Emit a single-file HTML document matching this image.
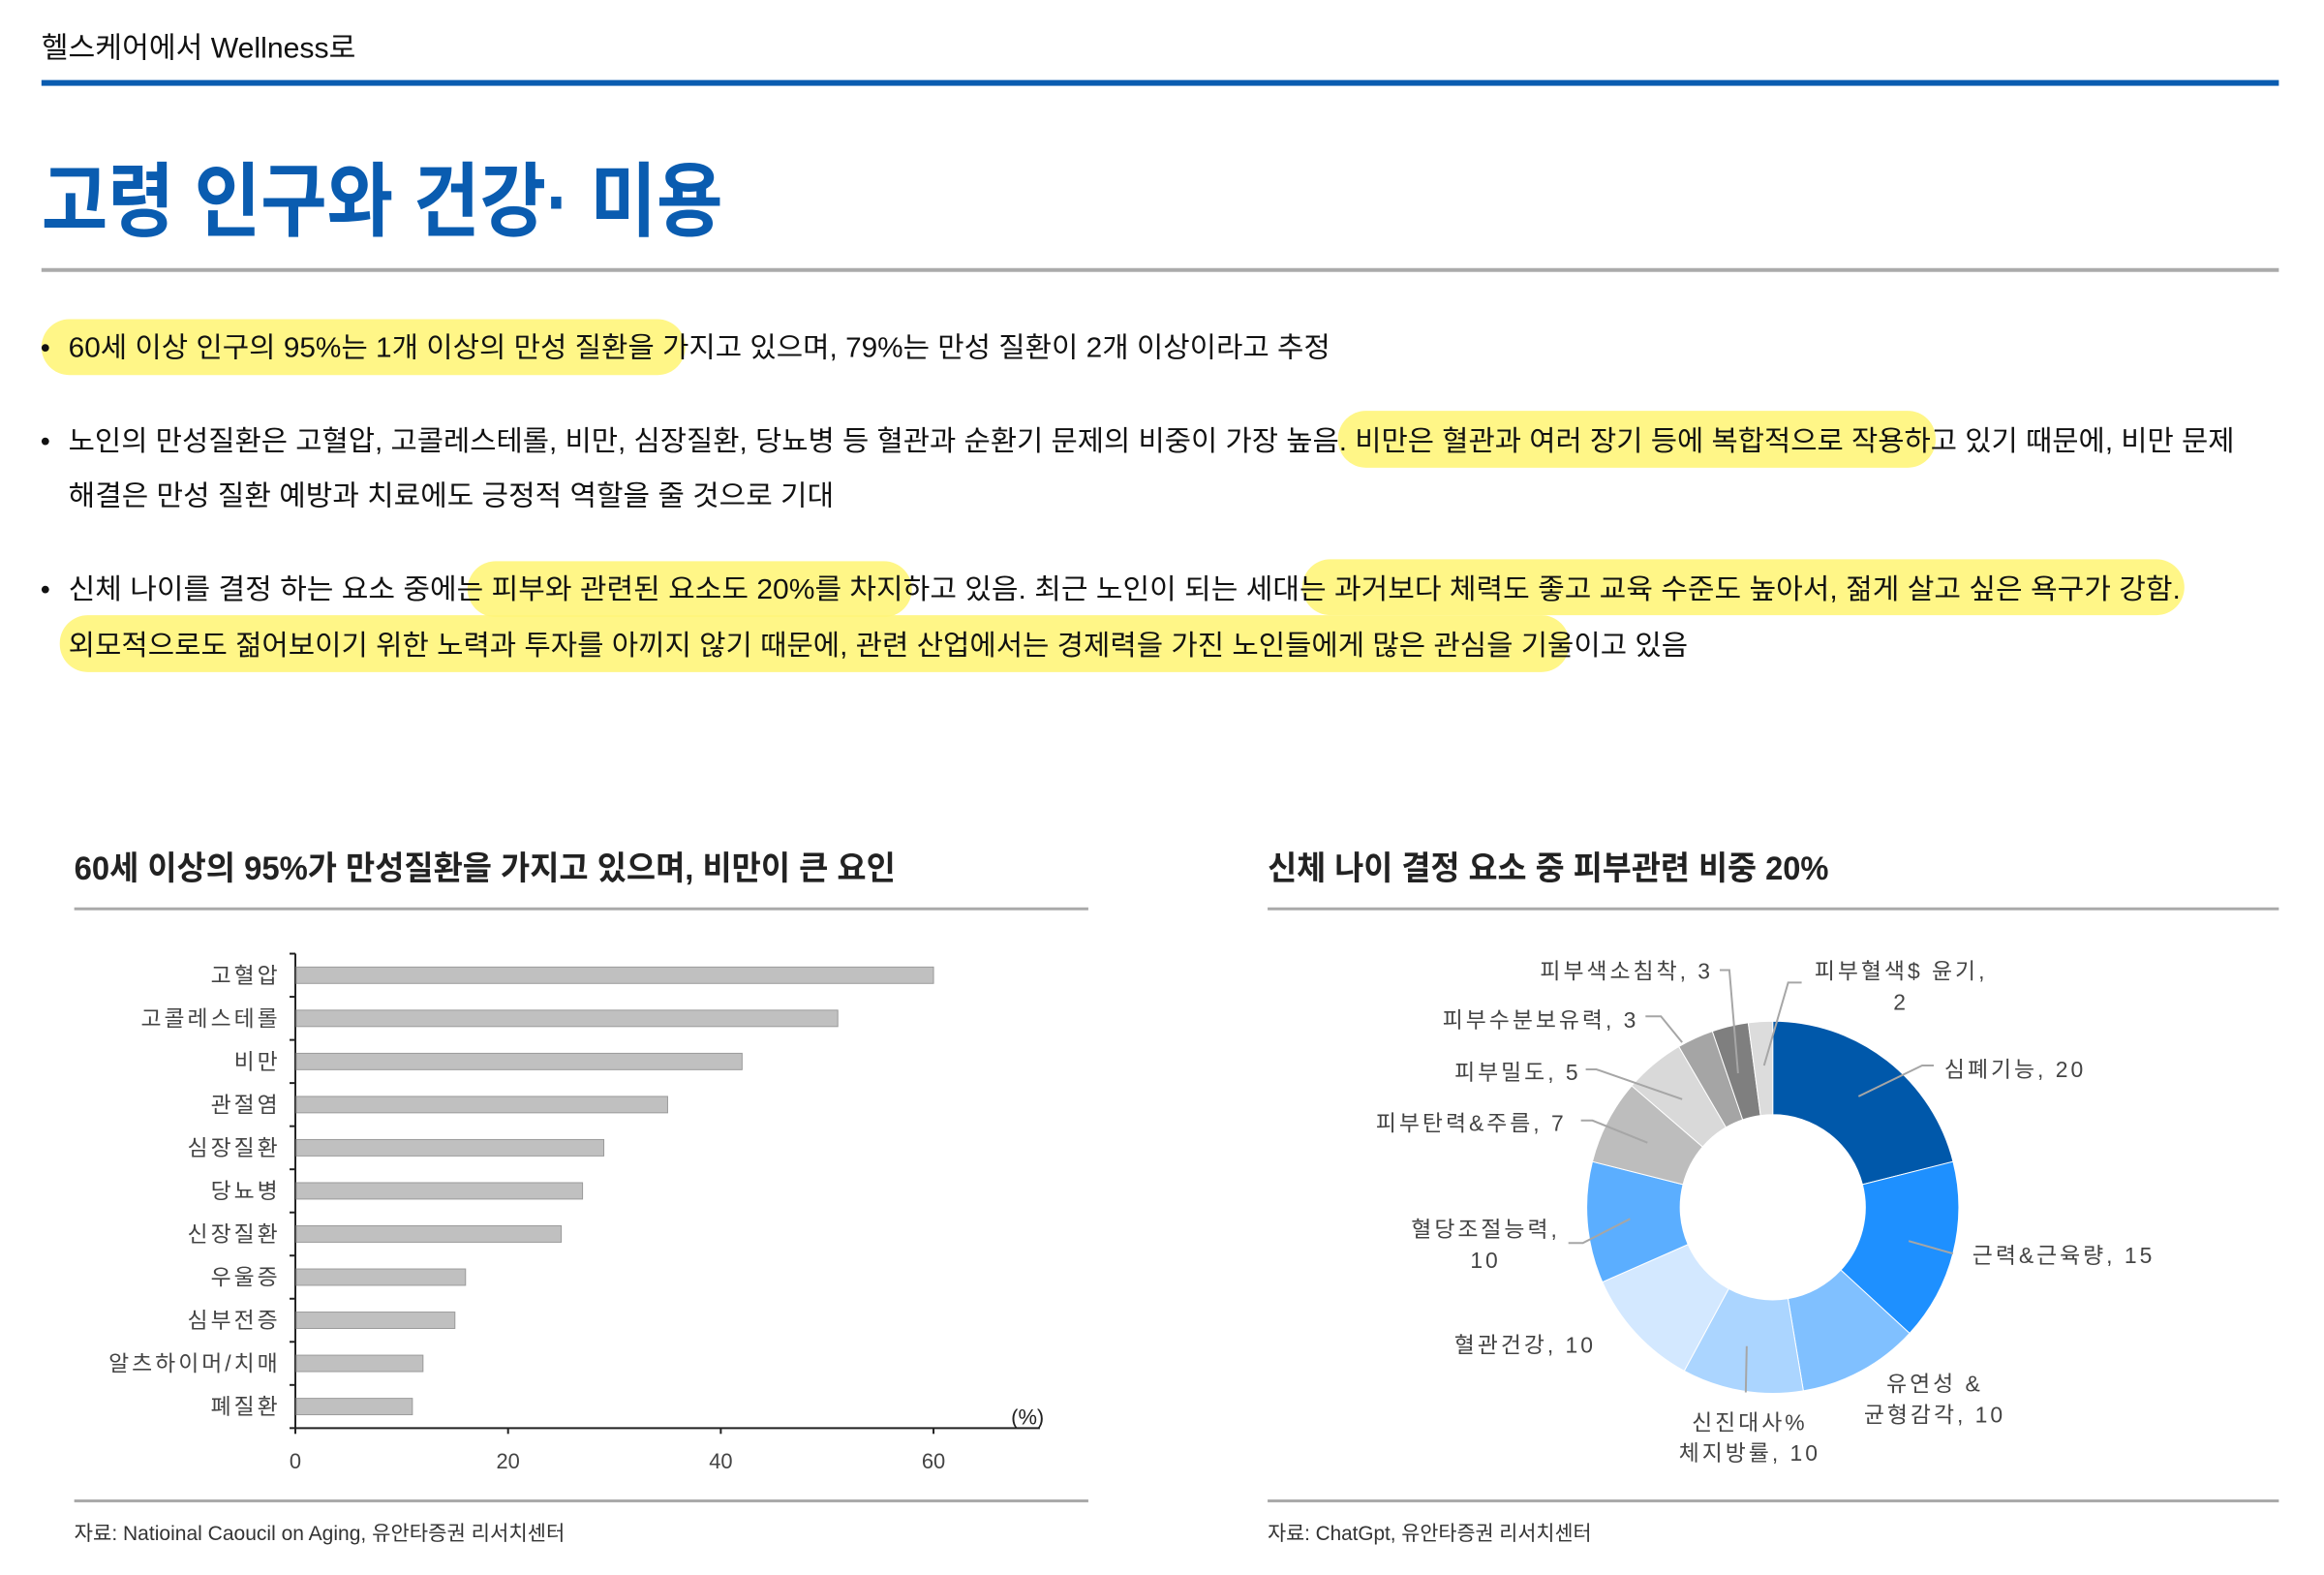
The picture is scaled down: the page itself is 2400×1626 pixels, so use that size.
<!DOCTYPE html>
<html><head><meta charset="utf-8">
<style>
html,body{margin:0;padding:0;background:#fff;}
svg{display:block;}
text{font-family:"Liberation Sans","Noto Sans CJK KR",sans-serif;}
.lab{letter-spacing:3px;}
</style></head>
<body>
<svg id="page" width="2400" height="1626" viewBox="0 0 2400 1626" xmlns="http://www.w3.org/2000/svg">
<g transform="scale(0.9955)">
  <text x="43" y="60" font-size="30" fill="#111" textLength="326" lengthAdjust="spacingAndGlyphs">헬스케어에서 Wellness로</text>
  <rect x="43" y="83" width="2321" height="6" fill="#0a5cb0"/>
  <text x="43" y="238" font-size="84" font-weight="bold" fill="#0a5cb0" textLength="707" lengthAdjust="spacingAndGlyphs">고령 인구와 건강· 미용</text>
  <rect x="43" y="278" width="2321" height="4" fill="#aaaaaa"/>

  <g>
    <rect x="43" y="331" width="668" height="58" rx="29" fill="#fff57a" opacity="0.9"/>
    <rect x="1388" y="426" width="620" height="59" rx="29" fill="#fff57a" opacity="0.9"/>
    <rect x="485" y="582" width="461" height="58" rx="29" fill="#fff57a" opacity="0.9"/>
    <rect x="1351" y="580" width="915" height="58" rx="29" fill="#fff57a" opacity="0.9"/>
    <rect x="62" y="638" width="1566" height="59" rx="29" fill="#fff57a" opacity="0.9"/>
  </g>

  <g font-size="29" fill="#111">
    <text x="42" y="370">•</text>
    <text x="71" y="370" textLength="1309" lengthAdjust="spacingAndGlyphs">60세 이상 인구의 95%는 1개 이상의 만성 질환을 가지고 있으며, 79%는 만성 질환이 2개 이상이라고 추정</text>
    <text x="42" y="467">•</text>
    <text x="71" y="467" textLength="2247" lengthAdjust="spacingAndGlyphs">노인의 만성질환은 고혈압, 고콜레스테롤, 비만, 심장질환, 당뇨병 등 혈관과 순환기 문제의 비중이 가장 높음. 비만은 혈관과 여러 장기 등에 복합적으로 작용하고 있기 때문에, 비만 문제</text>
    <text x="71" y="524" textLength="794" lengthAdjust="spacingAndGlyphs">해결은  만성 질환 예방과 치료에도 긍정적 역할을 줄 것으로 기대</text>
    <text x="42" y="621">•</text>
    <text x="71" y="621" textLength="2191" lengthAdjust="spacingAndGlyphs">신체 나이를 결정 하는 요소 중에는 피부와 관련된 요소도 20%를 차지하고 있음.  최근 노인이 되는 세대는 과거보다 체력도 좋고 교육 수준도 높아서, 젊게 살고 싶은 욕구가 강함.</text>
    <text x="71" y="679" textLength="1680" lengthAdjust="spacingAndGlyphs">외모적으로도 젊어보이기 위한 노력과 투자를 아끼지 않기 때문에,  관련 산업에서는 경제력을 가진 노인들에게 많은 관심을 기울이고 있음</text>
  </g>

  <text x="77" y="912" font-size="34" font-weight="bold" fill="#222" textLength="852" lengthAdjust="spacingAndGlyphs">60세 이상의 95%가 만성질환을 가지고 있으며, 비만이 큰 요인</text>
  <rect x="77" y="941" width="1052" height="3" fill="#aaaaaa"/>
  <rect x="77" y="1555" width="1052" height="3" fill="#aaaaaa"/>
  <text x="77" y="1597" font-size="21" fill="#333" textLength="509" lengthAdjust="spacingAndGlyphs">자료: Natioinal Caoucil on Aging, 유안타증권 리서치센터</text>
  <g id="barChart"></g>

  <text x="1315" y="912" font-size="34" font-weight="bold" fill="#222" textLength="582" lengthAdjust="spacingAndGlyphs">신체 나이 결정 요소 중 피부관련 비중 20%</text>
  <rect x="1315" y="941" width="1049" height="3" fill="#aaaaaa"/>
  <rect x="1315" y="1555" width="1049" height="3" fill="#aaaaaa"/>
  <text x="1315" y="1597" font-size="21" fill="#333" textLength="336" lengthAdjust="spacingAndGlyphs">자료: ChatGpt, 유안타증권 리서치센터</text>
  <g id="donutChart"></g>
</g>
</svg>
<script>
const barCategories = ["고혈압","고콜레스테롤","비만","관절염","심장질환","당뇨병","신장질환","우울증","심부전증","알츠하이머/치매","폐질환"];
const barValues = [60,51,42,35,29,27,25,16,15,12,11];
const xTicks = [0,20,40,60];

const donutLabels = ["심폐기능","근력&근육량","유연성 & 균형감각","신진대사% 체지방률","혈관건강","혈당조절능력","피부탄력&주름","피부밀도","피부수분보유력","피부색소침착","피부혈색$ 윤기"];
const donutValues = [20,15,10,10,10,10,7,5,3,3,2];

const NS = "http://www.w3.org/2000/svg";
function mk(tag, attrs, parent){
  const e = document.createElementNS(NS, tag);
  for (const k in attrs) e.setAttribute(k, attrs[k]);
  parent.appendChild(e);
  return e;
}

(function(){
  const g = document.getElementById('barChart');
  const x0 = 306.4, xMax = 70, pxPer = (968.4 - 306.4) / 60;
  const yTop = 989, yBot = 1481;
  const band = (yBot - yTop) / barCategories.length;
  const xs = v => x0 + v * pxPer;
  const yc = i => yTop + band * (i + 0.5);
  const yAxis = mk('line', {x1:x0, y1:yTop, x2:x0, y2:yBot, stroke:'#222', 'stroke-width':2}, g);
  
  
  const xAxis = mk('line', {x1:x0, y1:yBot, x2:xs(xMax), y2:yBot, stroke:'#222', 'stroke-width':2}, g);
  
  
  for (let i = 0; i <= barCategories.length; i++) {
    const t = mk('line', {x1:x0-6, y1:yTop+band*i, x2:x0, y2:yTop+band*i, stroke:'#222', 'stroke-width':2}, g);
    
    
  }
  barCategories.forEach((c, i) => {
    const r = mk('rect', {x:x0+1, y:yc(i)-8.5, width:xs(barValues[i])-x0-1, height:17, fill:'#c0c0c0', stroke:'#9a9a9a', 'stroke-width':1}, g);
    
    
    const t = mk('text', {x:291, y:yc(i)+8, 'text-anchor':'end', 'font-size':23, fill:'#444', class:'lab'}, g);
    t.textContent = c;
    
    
  });
  xTicks.forEach(v => {
    const tk = mk('line', {x1:xs(v), y1:yBot, x2:xs(v), y2:yBot+6, stroke:'#222', 'stroke-width':2}, g);
    
    
    const t = mk('text', {x:xs(v), y:1523, 'text-anchor':'middle', 'font-size':22, fill:'#444'}, g);
    t.textContent = v;
    
    
  });
  const u = mk('text', {x:1066, y:1477, 'text-anchor':'middle', 'font-size':22, fill:'#222'}, g);
  u.textContent = '(%)';
  
  
})();

(function(){
  const g = document.getElementById('donutChart');
  const cx = 1839, cy = 1252, R = 193, r = 96;
  const colors = ['#0058aa','#1e90ff','#80c0ff','#abd5ff','#d3e8ff','#5baeff','#bdbdbd','#d9d9d9','#a5a5a5','#7f7f7f','#dcdcdc'];
  const total = donutValues.reduce((a,b)=>a+b,0);
  const pt = (rad, a) => [cx + rad*Math.sin(a), cy - rad*Math.cos(a)];
  let acc = 0;
  donutValues.forEach((v, i) => {
    const a0 = acc/total*2*Math.PI, a1 = (acc+v)/total*2*Math.PI;
    acc += v;
    const large = (a1-a0) > Math.PI ? 1 : 0;
    const [x1,y1] = pt(R,a0), [x2,y2] = pt(R,a1), [x3,y3] = pt(r,a1), [x4,y4] = pt(r,a0);
    const p = mk('path', {d:`M${x1},${y1} A${R},${R} 0 ${large} 1 ${x2},${y2} L${x3},${y3} A${r},${r} 0 ${large} 0 ${x4},${y4} Z`, fill:colors[i], stroke:'#fff', 'stroke-width':1}, g);
    
    
  });
  const lab = [
    [[donutLabels[0]+', '+donutValues[0]], 2017, 1117, 'start', '2006,1105 1994,1105 1928,1137'],
    [[donutLabels[1]+', '+donutValues[1]], 2046, 1310, 'start', '2026,1300 1980,1287'],
    [['유연성 &', '균형감각, '+donutValues[2]], 2007, 1443, 'middle', ''],
    [['신진대사%', '체지방률, '+donutValues[3]], 1815, 1483, 'middle', '1811,1444 1812,1396'],
    [[donutLabels[4]+', '+donutValues[4]], 1582, 1403, 'middle', ''],
    [['혈당조절능력,', ''+donutValues[5]], 1541, 1283, 'middle', '1627,1289 1642,1289 1691,1264'],
    [[donutLabels[6]+', '+donutValues[6]], 1625, 1173, 'end', '1640,1162 1652,1162 1709,1185'],
    [[donutLabels[7]+', '+donutValues[7]], 1640, 1120, 'end', '1645,1109 1656,1109 1745,1140'],
    [[donutLabels[8]+', '+donutValues[8]], 1700, 1066, 'end', '1707,1054 1723,1054 1745,1081'],
    [[donutLabels[9]+', '+donutValues[9]], 1777, 1015, 'end', '1784,1006 1794,1006 1803,1113'],
    [['피부혈색$ 윤기,', ''+donutValues[10]], 1972, 1015, 'middle', '1869,1019 1855,1019 1830,1105']
  ];
  lab.forEach((L) => {
    if (L[4]) {
      const pl = mk('polyline', {points:L[4], fill:'none', stroke:'#a6a6a6', 'stroke-width':2}, g);
      
      
    }
    L[0].forEach((s, j) => {
      const t = mk('text', {x:L[1], y:L[2]+j*32, 'text-anchor':L[3], 'font-size':23, fill:'#444', class:'lab'}, g);
      t.textContent = s;
      
      
    });
  });
})();
</script>
</body></html>
